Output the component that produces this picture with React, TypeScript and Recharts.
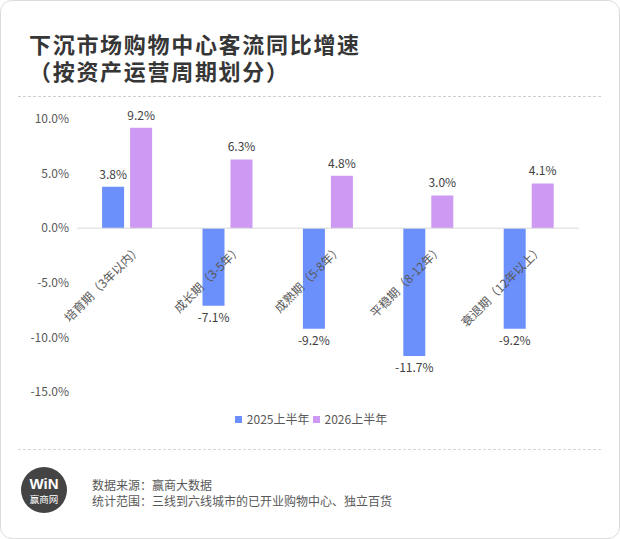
import React from 'react';
import { BarChart, Bar, XAxis, YAxis, ReferenceLine, LabelList } from 'recharts';

const categories = ['培育期（3年以内）', '成长期（3-5年）', '成熟期（5-8年）', '平稳期（8-12年）', '衰退期（12年以上）'];
const h1of2025 = [3.8, -7.1, -9.2, -11.7, -9.2];
const h1of2026 = [9.2, 6.3, 4.8, 3.0, 4.1];
const yTicks = [-15, -10, -5, 0, 5, 10];
const seriesNames = ['2025上半年', '2026上半年'];
const seriesColors = ['#6b90fc', '#cd99f2'];

const data = categories.map((name, i) => ({ name, a: h1of2025[i], b: h1of2026[i] }));

const FONT = '"Noto Sans CJK SC", "Noto Sans", sans-serif';
const Y_MIN = -15;
const Y_MAX = 10;
const CHART_H = 450;
const X_AXIS_H = 30;
const MARGIN = { top: 118, right: 42, bottom: 59 - X_AXIS_H, left: 0 };
const PLOT_H = CHART_H - MARGIN.top - MARGIN.bottom - X_AXIS_H;
// x axis sits at the plot bottom; its labels are drawn up at the zero line
const ZERO_SHIFT = (PLOT_H * (0 - Y_MIN)) / (Y_MAX - Y_MIN);

const pct = (v: number) => `${Number(v).toFixed(1)}%`;

const CategoryTick = (props: any) => {
  const { x, y, payload } = props;
  const tx = x + 15;
  const ty = y - ZERO_SHIFT + 22;
  return (
    <text
      x={tx}
      y={ty}
      transform={`rotate(-45 ${tx} ${ty})`}
      textAnchor="end"
      fontSize={12}
      fill="#595959"
      fontFamily={FONT}
    >
      {payload.value}
    </text>
  );
};

const Logo = () => (
  <svg width={50} height={50} style={{ position: 'absolute', left: 18, top: 464 }}>
    <circle cx={25} cy={25} r={23} fill="#444" />
    <text x={25} y={24} textAnchor="middle" fontSize={15} fontWeight="bold" fill="#fff" fontFamily="Arial, sans-serif">WiN</text>
    <text x={25} y={38} textAnchor="middle" fontSize={9.5} fill="#fff" fontFamily={FONT}>赢商网</text>
  </svg>
);

export default function App() {
  return (
    <div
      style={{
        position: 'absolute',
        left: 0,
        top: 0,
        width: 620,
        height: 539,
        boxSizing: 'border-box',
        border: '1px solid #dcdcdc',
        borderRadius: 12,
        background: '#fff',
        fontFamily: FONT,
        overflow: 'hidden',
      }}
    >
      <div
        style={{
          position: 'absolute',
          left: 28,
          top: 29,
          fontSize: 22,
          lineHeight: '27px',
          letterSpacing: 1.7,
          fontWeight: 'bold',
          color: '#363636',
        }}
      >
        下沉市场购物中心客流同比增速
        <br />
        （按资产运营周期划分）
      </div>
      <div style={{ position: 'absolute', left: 17, top: 95, width: 583, borderTop: '1px dashed #cfcfcf' }} />

      <div style={{ position: 'absolute', left: 0, top: 0 }}>
        <BarChart width={620} height={CHART_H} data={data} margin={MARGIN} barCategoryGap="25%" barGap={6}>
          <XAxis
            dataKey="name"
            height={X_AXIS_H}
            axisLine={false}
            tickLine={false}
            tickSize={0}
            tickMargin={0}
            interval={0}
            tick={(p: any) => <CategoryTick {...p} />}
          />
          <YAxis
            width={76}
            domain={[Y_MIN, Y_MAX]}
            ticks={yTicks}
            tickFormatter={pct}
            axisLine={false}
            tickLine={false}
            tick={{ fill: '#595959', fontSize: 12, fontFamily: FONT }}
          />
          <ReferenceLine y={0} stroke="#d9d9d9" strokeWidth={1} />
          <Bar dataKey="a" name={seriesNames[0]} fill={seriesColors[0]} isAnimationActive={false}>
            <LabelList dataKey="a" position="top" offset={8} formatter={pct} fill="#404040" fontSize={12} fontFamily={FONT} />
          </Bar>
          <Bar dataKey="b" name={seriesNames[1]} fill={seriesColors[1]} isAnimationActive={false}>
            <LabelList dataKey="b" position="top" offset={8} formatter={pct} fill="#404040" fontSize={12} fontFamily={FONT} />
          </Bar>
        </BarChart>
      </div>

      <div
        style={{
          position: 'absolute',
          left: 0,
          top: 410,
          width: 620,
          display: 'flex',
          justifyContent: 'center',
          fontSize: 12,
          lineHeight: '16px',
          color: '#595959',
        }}
      >
        {seriesNames.map((n, i) => (
          <span key={n} style={{ display: 'inline-flex', alignItems: 'center', marginLeft: i ? 3 : 0 }}>
            <span style={{ width: 7, height: 7, background: seriesColors[i], marginRight: 5 }} />
            {n}
          </span>
        ))}
      </div>

      <div style={{ position: 'absolute', left: 17, top: 448, width: 583, borderTop: '1px dashed #d6d6d6' }} />
      <Logo />
      <div style={{ position: 'absolute', left: 91, top: 476, fontSize: 12, lineHeight: '16px', color: '#595959' }}>
        数据来源：赢商大数据
        <br />
        统计范围：三线到六线城市的已开业购物中心、独立百货
      </div>
    </div>
  );
}
